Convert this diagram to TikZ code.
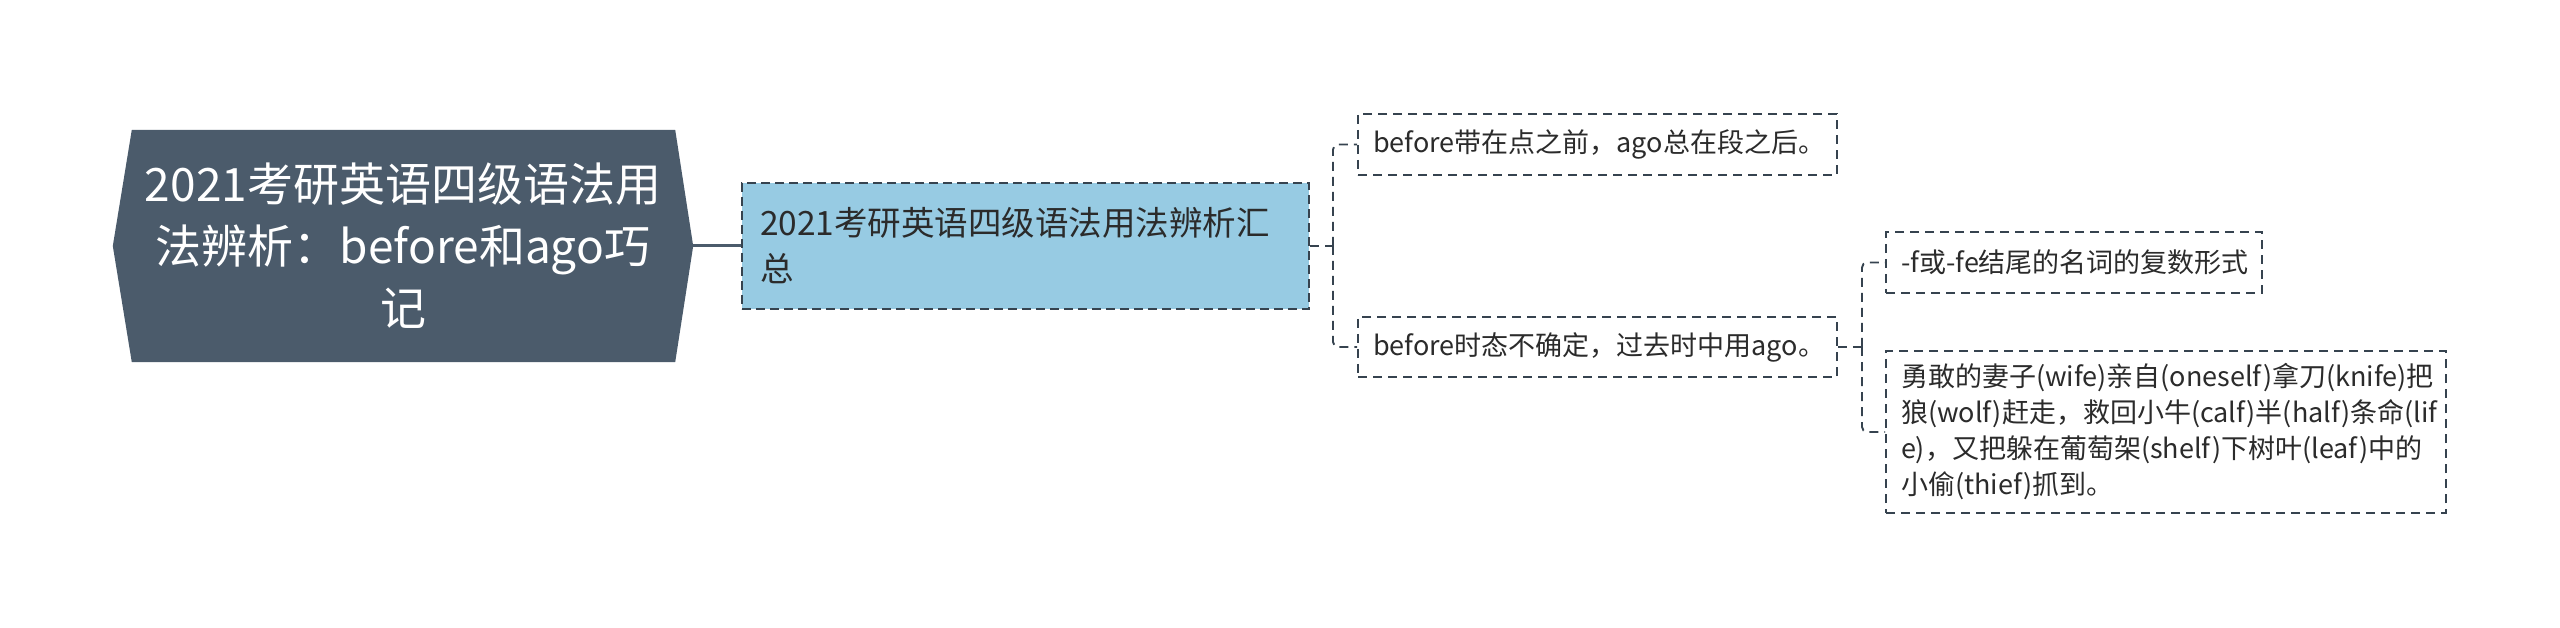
\documentclass[tikz,border=0pt]{standalone}
\usepackage{fontspec}
\setmainfont{Noto Sans CJK SC}
\usetikzlibrary{backgrounds}
\definecolor{rootfill}{HTML}{4B5B6B}
\definecolor{childfill}{HTML}{97CBE3}
\definecolor{lineclr}{HTML}{36434F}
\definecolor{txtclr}{HTML}{2B2B2B}
\begin{document}
\begin{tikzpicture}[x=1pt,y=-1pt,
  roottext/.style={inner sep=0pt, minimum width=580pt, minimum height=232pt,
    text width=560pt, align=center, text=white,
    font=\fontsize{46}{62}\selectfont},
  childbox/.style={draw=lineclr, line width=2pt, dash pattern=on 9pt off 5pt,
    fill=childfill, inner xsep=18pt, inner ysep=0pt, align=left, text=txtclr,
    font=\fontsize{33.5}{46}\selectfont},
  leafbox/.style={draw=lineclr, line width=1.9pt, dash pattern=on 9pt off 6pt,
    fill=white, inner xsep=15pt, inner ysep=0pt, align=left, text=txtclr,
    font=\fontsize{27}{36}\selectfont},
  conn/.style={draw=lineclr, line width=1.9pt, dash pattern=on 9pt off 6pt},
  rootconn/.style={draw=rootfill, line width=3pt}
]
\useasboundingbox (0,0) rectangle (2560,628);

\node[roottext] (root) at (403,246) {2021考研英语四级语法用\\法辨析：before和ago巧\\记};
\begin{scope}[on background layer]
  \fill[rootfill] (root.west) -- ([xshift=19pt]root.north west) -- ([xshift=-18pt]root.north east)
    -- (root.east) -- ([xshift=-18pt]root.south east) -- ([xshift=19pt]root.south west) -- cycle;
\end{scope}

\node[childbox, text width=531pt, minimum height=126pt] (child) at (1025.5,246)
  {2021考研英语四级语法用法辨析汇\\总};

\node[leafbox, text width=449pt, minimum height=61pt] (leaf1) at (1597.5,144.5)
  {before带在点之前，ago总在段之后。};
\node[leafbox, text width=449pt, minimum height=60pt] (leaf2) at (1597.5,347)
  {before时态不确定，过去时中用ago。};
\node[leafbox, text width=346pt, minimum height=61pt] (leaf3) at (2074,262.5)
  {\mbox{-f或-fe结尾的名词的复数形式}};
\node[leafbox, text width=530pt, minimum height=162pt] (leaf4) at (2166,432)
  {勇敢的妻子(wife)亲自(oneself)拿刀(knife)把\\狼(wolf)赶走，救回小牛(calf)半(half)条命(lif\\e)，又把躲在葡萄架(shelf)下树叶(leaf)中的\\小偷(thief)抓到。};

\draw[rootconn] (root.east) -- (child.west);

\coordinate (j1) at (1333,246);
\draw[conn] (child.east) -- (j1);
\draw[conn, rounded corners=5pt] (j1) |- (leaf1.west);
\draw[conn, rounded corners=5pt] (j1) |- (leaf2.west);

\coordinate (j2) at (1862,347);
\draw[conn] (leaf2.east) -- (j2);
\draw[conn, rounded corners=5pt] (j2) |- (leaf3.west);
\draw[conn, rounded corners=5pt] (j2) |- (leaf4.west);
\end{tikzpicture}
\end{document}
